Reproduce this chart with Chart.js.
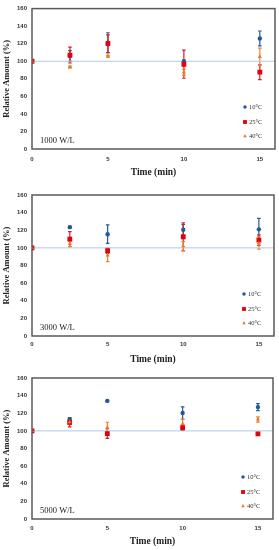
<!DOCTYPE html>
<html>
<head>
<meta charset="utf-8">
<script src="https://cdn.jsdelivr.net/npm/chart.js@4.4.1/dist/chart.umd.min.js"></script>
<style>
html,body{margin:0;padding:0;background:#fff;}
body{width:279px;height:550px;position:relative;overflow:hidden;}
.pc{position:absolute;left:0;width:279px;height:183px;}
</style>
</head>
<body>
<div class="pc" style="top:0px"><canvas id="c1"></canvas></div>
<div class="pc" style="top:185px"><canvas id="c2"></canvas></div>
<div class="pc" style="top:367px"><canvas id="c3"></canvas></div>
<script>
// ---- data ----
const times = [0, 2.5, 5, 10, 15];
const xTicks = [0, 5, 10, 15];
const yTicks = [0, 20, 40, 60, 80, 100, 120, 140, 160];
const seriesNames = ['10°C', '25°C', '40°C'];
const panelLabels = ['1000 W/L', '3000 W/L', '5000 W/L'];
const refValue = 100;

// 1000 W/L
const p1_10 = [100, 106, 121, 99.6, 126];
const p1_10err = [0, 6, 11.5, 2, 8.5];
const p1_25 = [100, 107, 120, 96.6, 87.5];
const p1_25err = [0, 9, 10, 16, 8.5];
const p1_40 = [100, 93.5, 105.7, 87.5, 105];
const p1_40err = [0, 1, 1, 3.5, 10];

// 3000 W/L
const p2_10 = [100, 123.5, 115.5, 120.6, 121];
const p2_10err = [0, 1, 10.5, 6, 12.5];
const p2_25 = [100, 110, 96.8, 112.5, 108.8];
const p2_25err = [0, 8.5, 3, 16, 6];
const p2_40 = [100, 104.5, 91.5, 102, 105.5];
const p2_40err = [0, 3, 7, 5, 7];

// 5000 W/L
const p3_10 = [100, 113, 134, 120.2, 127];
const p3_10err = [0, 2, 0.5, 7, 4];
const p3_25 = [100, 109.5, 96.9, 103.5, 96.6];
const p3_25err = [0, 5, 5.5, 3, 1];
const p3_40 = [100, 110, 103.8, 108, 113];
const p3_40err = [0, 1, 6, 5, 3];

// ---- styles ----
const colors = ['#1f5b98', '#e5000c', '#ea7a22'];
const errColors = ['#2a5a8a', '#d4202a', '#e8822e'];
const styles = ['circle', 'rect', 'triangle'];
const radii = [2.2, 3.4, 2.4];

function pts(vals, errs) {
  return times.map((t, i) => ({x: t, y: vals[i], e: errs[i]}));
}

const errorBarPlugin = {
  id: 'errbars',
  beforeDatasetsDraw(chart) {
    const ctx = chart.ctx, xs = chart.scales.x, ys = chart.scales.y;
    ctx.save();
    chart.data.datasets.forEach((ds, di) => {
      if (ds.errColor === undefined) return;
      ctx.strokeStyle = ds.errColor;
      ctx.lineWidth = 1.2;
      ds.data.forEach(p => {
        if (!p.e) return;
        const x = xs.getPixelForValue(p.x);
        const y1 = ys.getPixelForValue(p.y - p.e);
        const y2 = ys.getPixelForValue(p.y + p.e);
        ctx.beginPath();
        ctx.moveTo(x, y1); ctx.lineTo(x, y2);
        ctx.moveTo(x - 1.8, y1); ctx.lineTo(x + 1.8, y1);
        ctx.moveTo(x - 1.8, y2); ctx.lineTo(x + 1.8, y2);
        ctx.stroke();
      });
    });
    ctx.restore();
  }
};

function drawMarker(ctx, style, x, y, r, color) {
  ctx.fillStyle = color;
  ctx.beginPath();
  if (style === 'circle') {
    ctx.arc(x, y, r, 0, Math.PI * 2);
  } else if (style === 'rect') {
    const s = r * Math.SQRT1_2;
    ctx.rect(x - s, y - s, 2 * s, 2 * s);
  } else {
    ctx.moveTo(x, y - r);
    ctx.lineTo(x + r * 0.9, y + r * 0.6);
    ctx.lineTo(x - r * 0.9, y + r * 0.6);
    ctx.closePath();
  }
  ctx.fill();
}

const framePlugin = {
  id: 'frame',
  afterDraw(chart, args, opts) {
    const ctx = chart.ctx, a = chart.chartArea;
    ctx.save();
    ctx.strokeStyle = '#595959';
    ctx.lineWidth = 1.5;
    ctx.strokeRect(a.left, a.top, a.right - a.left, a.bottom - a.top);
    // panel label
    ctx.fillStyle = '#222';
    ctx.font = '8.5px "Liberation Serif", serif';
    ctx.textBaseline = 'alphabetic';
    ctx.textAlign = 'left';
    ctx.fillText(opts.label, a.left + 8, a.bottom - 6);
    // legend
    ctx.font = '6.5px "Liberation Serif", serif';
    ctx.textBaseline = 'middle';
    const offs = [42, 27, 13];
    seriesNames.forEach((n, i) => {
      const y = a.bottom - offs[i];
      drawMarker(ctx, styles[i], a.right - 30, y, radii[i] * 0.8, colors[i]);
      ctx.fillStyle = '#333';
      ctx.fillText(n, a.right - 26, y);
    });
    ctx.restore();
  }
};

function makePanel(id, vals, errs, label, lay) {
  const datasets = [{
    type: 'line',
    data: [{x: 0, y: refValue}, {x: 16, y: refValue}],
    borderColor: '#a9cbe8',
    borderWidth: 1,
    pointRadius: 0,
    order: 10
  }];
  for (let i = 0; i < 3; i++) {
    datasets.push({
      type: 'scatter',
      label: seriesNames[i],
      data: pts(vals[i], errs[i]),
      backgroundColor: colors[i],
      borderColor: colors[i],
      borderWidth: 0,
      pointStyle: styles[i],
      pointRadius: radii[i],
      errColor: errColors[i],
      order: 3 - i
    });
  }
  new Chart(document.getElementById(id), {
    data: {datasets},
    plugins: [errorBarPlugin, framePlugin],
    options: {
      responsive: true,
      maintainAspectRatio: false,
      animation: false,
      events: [],
      layout: {padding: {top: lay.top, right: 279 - lay.right, left: 0, bottom: 0}},
      plugins: {legend: {display: false}, tooltip: {enabled: false}, frame: {label}},
      scales: {
        x: {
          type: 'linear', min: 0, max: 16,
          grid: {display: false, drawTicks: false},
          border: {display: false},
          afterBuildTicks: s => { s.ticks = xTicks.map(v => ({value: v})); },
          afterFit: s => { s.height = 183 - lay.bottom; },
          ticks: {padding: lay.tickPad, color: '#333', font: {family: 'Liberation Sans', size: 6, weight: 'bold'}},
          title: {display: true, text: 'Time (min)', color: '#222', padding: {top: 0, bottom: lay.titlePad},
                  font: {family: 'Liberation Serif', size: 9.5, weight: 'bold'}}
        },
        y: {
          type: 'linear', min: 0, max: 160,
          grid: {display: false, drawTicks: false},
          border: {display: false},
          afterBuildTicks: s => { s.ticks = yTicks.map(v => ({value: v})); },
          afterFit: s => { s.width = lay.left; },
          ticks: {padding: 5, color: '#333', font: {family: 'Liberation Sans', size: 6, weight: 'bold'}},
          title: {display: true, text: 'Relative Amount (%)', color: '#222', padding: {top: 2, bottom: 0},
                  font: {family: 'Liberation Serif', size: 8.5, weight: 'bold'}}
        }
      }
    }
  });
}

makePanel('c1', [p1_10, p1_25, p1_40], [p1_10err, p1_25err, p1_40err], panelLabels[0],
  {top: 8, bottom: 149, left: 32, right: 277, tickPad: 7, titlePad: 5});
makePanel('c2', [p2_10, p2_25, p2_40], [p2_10err, p2_25err, p2_40err], panelLabels[1],
  {top: 10, bottom: 151, left: 32, right: 274, tickPad: 5, titlePad: 3});
makePanel('c3', [p3_10, p3_25, p3_40], [p3_10err, p3_25err, p3_40err], panelLabels[2],
  {top: 11, bottom: 152, left: 32, right: 273, tickPad: 6, titlePad: 3});
</script>
</body>
</html>
